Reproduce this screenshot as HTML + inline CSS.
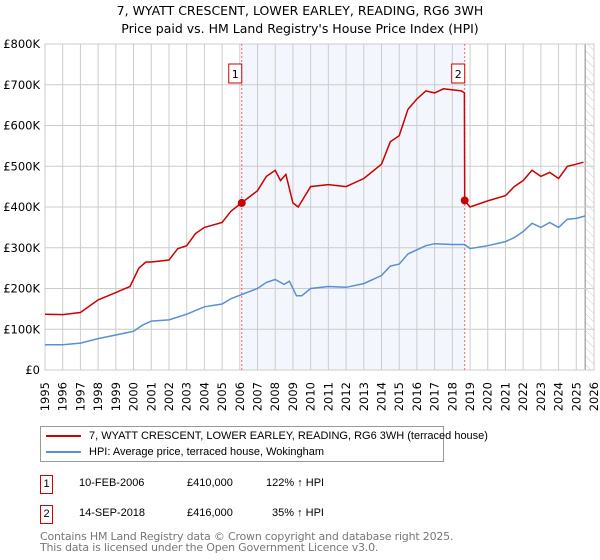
<!DOCTYPE html>
<html><head><meta charset="utf-8"><style>
body{margin:0;background:#fff;font-family:"Liberation Sans","DejaVu Sans",sans-serif;}
#wrap{position:relative;width:600px;height:560px;}
</style></head><body>
<div id="wrap">
<svg id="chart" width="600" height="560" style="position:absolute;left:0;top:0;font-family:'DejaVu Sans','Liberation Sans',sans-serif">
<defs><pattern id="hatch" width="6" height="6" patternUnits="userSpaceOnUse" patternTransform="rotate(-45)"><line x1="0" y1="0" x2="0" y2="6" stroke="#ccc" stroke-width="1"/></pattern></defs>
<text x="300" y="15" text-anchor="middle" font-size="12.5" fill="#000">7, WYATT CRESCENT, LOWER EARLEY, READING, RG6 3WH</text>
<text x="300" y="33" text-anchor="middle" font-size="12.5" fill="#000">Price paid vs. HM Land Registry's House Price Index (HPI)</text>
<g id="grid"></g><g id="marks"></g><g id="axes"></g>
</svg>
<div style="position:absolute;left:40px;top:426px;width:402px;height:34px;border:1px solid #999;font-size:11px;">
 <div style="position:absolute;left:5px;top:3px;white-space:nowrap"><span style="display:inline-block;width:35px;height:2px;background:#cc0000;vertical-align:middle;margin-right:8px"></span>7, WYATT CRESCENT, LOWER EARLEY, READING, RG6 3WH (terraced house)</div>
 <div style="position:absolute;left:5px;top:19px;white-space:nowrap"><span style="display:inline-block;width:35px;height:2px;background:#5b8fd4;vertical-align:middle;margin-right:8px"></span>HPI: Average price, terraced house, Wokingham</div>
</div>
<div style="position:absolute;left:40px;top:475px;font-size:11px;height:20px;width:400px">
 <span style="position:absolute;left:0;top:0;width:11px;height:17px;border:1px solid #cc0000;text-align:center;line-height:17px">1</span>
 <span style="position:absolute;left:39px;top:2px">10-FEB-2006</span>
 <span style="position:absolute;left:147px;top:2px">£410,000</span>
 <span style="position:absolute;left:226px;top:2px">122% ↑ HPI</span>
</div>
<div style="position:absolute;left:40px;top:505px;font-size:11px;height:20px;width:400px">
 <span style="position:absolute;left:0;top:0;width:11px;height:17px;border:1px solid #cc0000;text-align:center;line-height:17px">2</span>
 <span style="position:absolute;left:39px;top:2px">14-SEP-2018</span>
 <span style="position:absolute;left:147px;top:2px">£416,000</span>
 <span style="position:absolute;left:232px;top:2px">35% ↑ HPI</span>
</div>
<div style="position:absolute;left:40px;top:531px;font-size:11px;color:#777;line-height:11px;font-family:'DejaVu Sans',sans-serif;letter-spacing:-0.2px">Contains HM Land Registry data © Crown copyright and database right 2025.<br>This data is licensed under the Open Government Licence v3.0.</div>
</div>
<script>
const yearTicks=[1995,1996,1997,1998,1999,2000,2001,2002,2003,2004,2005,2006,2007,2008,2009,2010,2011,2012,2013,2014,2015,2016,2017,2018,2019,2020,2021,2022,2023,2024,2025,2026];
const priceTicks=[0,100,200,300,400,500,600,700,800];
const priceTickLabels=["£0","£100K","£200K","£300K","£400K","£500K","£600K","£700K","£800K"];
const hpiYears=[1995,1996,1997,1998,1999,2000,2000.5,2001,2002,2003,2004,2005,2005.5,2006.1,2007,2007.5,2008,2008.5,2008.8,2009.2,2009.5,2010,2011,2012,2013,2014,2014.5,2015,2015.5,2016,2016.5,2017,2018,2018.7,2019,2020,2021,2021.5,2022,2022.5,2023,2023.5,2024,2024.5,2025,2025.5];
const hpiValues=[62,62,66,77,86,95,110,120,123,137,155,162,175,185,200,215,222,210,218,182,182,200,205,203,212,232,255,260,285,295,305,310,308,308,298,305,315,325,340,360,350,362,350,370,372,378];
const propYears=[1995,1996,1997,1998,1999,1999.8,2000.3,2000.7,2001,2002,2002.5,2003,2003.5,2004,2005,2005.5,2006.1,2007,2007.5,2008,2008.3,2008.6,2009,2009.3,2010,2011,2012,2013,2014,2014.5,2015,2015.5,2016,2016.5,2017,2017.5,2018.5,2018.68,2018.7,2019,2020,2021,2021.5,2022,2022.5,2023,2023.5,2024,2024.5,2025,2025.4];
const propValues=[137,136,141,172,190,205,250,265,265,270,298,305,335,350,362,390,410,440,475,490,465,480,410,400,450,455,450,470,505,560,575,640,665,685,680,690,685,680,416,400,415,428,450,465,490,475,485,470,500,505,510];
const saleYears=[2006.11,2018.7];
const saleValues=[410,416];
const saleLabels=["1","2"];
const NS="http://www.w3.org/2000/svg";
const X0=45,X1=594,Y0=370,Y1=44;
const xs=y=>X0+(y-1995)/(2026-1995)*(X1-X0);
const ys=v=>Y0-v/800*(Y0-Y1);
function mk(tag,attrs,parent){const e=document.createElementNS(NS,tag);for(const k in attrs)e.setAttribute(k,attrs[k]);parent.appendChild(e);return e;}
const grid=document.getElementById('grid'),marks=document.getElementById('marks'),axes=document.getElementById('axes');
let r=mk('rect',{x:X0,y:Y1,width:X1-X0,height:Y0-Y1,fill:'#fff',stroke:'#ccc'},grid);

r=mk('rect',{x:xs(saleYears[0]),y:Y1,width:xs(saleYears[1])-xs(saleYears[0]),height:Y0-Y1,fill:'#f3f6fd'},grid);

r=mk('rect',{x:xs(2025.5),y:Y1,width:X1-xs(2025.5),height:Y0-Y1,fill:'url(#hatch)'},grid);

mk('line',{x1:xs(2025.5),x2:xs(2025.5),y1:Y1,y2:Y0,stroke:'#888'},grid);
yearTicks.forEach(y=>{const l=mk('line',{x1:xs(y),x2:xs(y),y1:Y1,y2:Y0,stroke:'#ccc'},grid);
 
 const tx=xs(y)+4,ty=Y0+12;
 const t=mk('text',{x:tx,y:ty,'text-anchor':'end','font-size':11.5,transform:'rotate(-90 '+tx+' '+ty+')'},axes);t.textContent=y;
 });
priceTicks.forEach((v,i)=>{const l=mk('line',{x1:X0,x2:X1,y1:ys(v),y2:ys(v),stroke:'#ccc'},grid);
 
 const t=mk('text',{x:X0-5,y:ys(v)+4,'text-anchor':'end','font-size':11.5},axes);t.textContent=priceTickLabels[i];
 });
saleYears.forEach((y,i)=>{const l=mk('line',{x1:xs(y),x2:xs(y),y1:Y1,y2:Y0,stroke:'#e66','stroke-dasharray':'2,2'},marks);
 });
function line(xsA,vs,color,name){const d=xsA.map((y,i)=>(i?'L':'M')+xs(y).toFixed(1)+','+ys(vs[i]).toFixed(1)).join('');
 const p=mk('path',{d:d,fill:'none',stroke:color,'stroke-width':1.5},marks);
 }
line(hpiYears,hpiValues,'#5b8fd4','hpi-line');
line(propYears,propValues,'#cc0000','property-line');
saleYears.forEach((y,i)=>{const c=mk('circle',{cx:xs(y),cy:ys(saleValues[i]),r:4,fill:'#cc0000'},marks);
 
 const bx=xs(y)-13;
 const b=mk('rect',{x:bx,y:64,width:13,height:19,fill:'#fff',stroke:'#cc0000'},marks);
 
 const t=mk('text',{x:bx+6.5,y:78,'text-anchor':'middle','font-size':11},marks);t.textContent=saleLabels[i];
 });
</script>
</body></html>
